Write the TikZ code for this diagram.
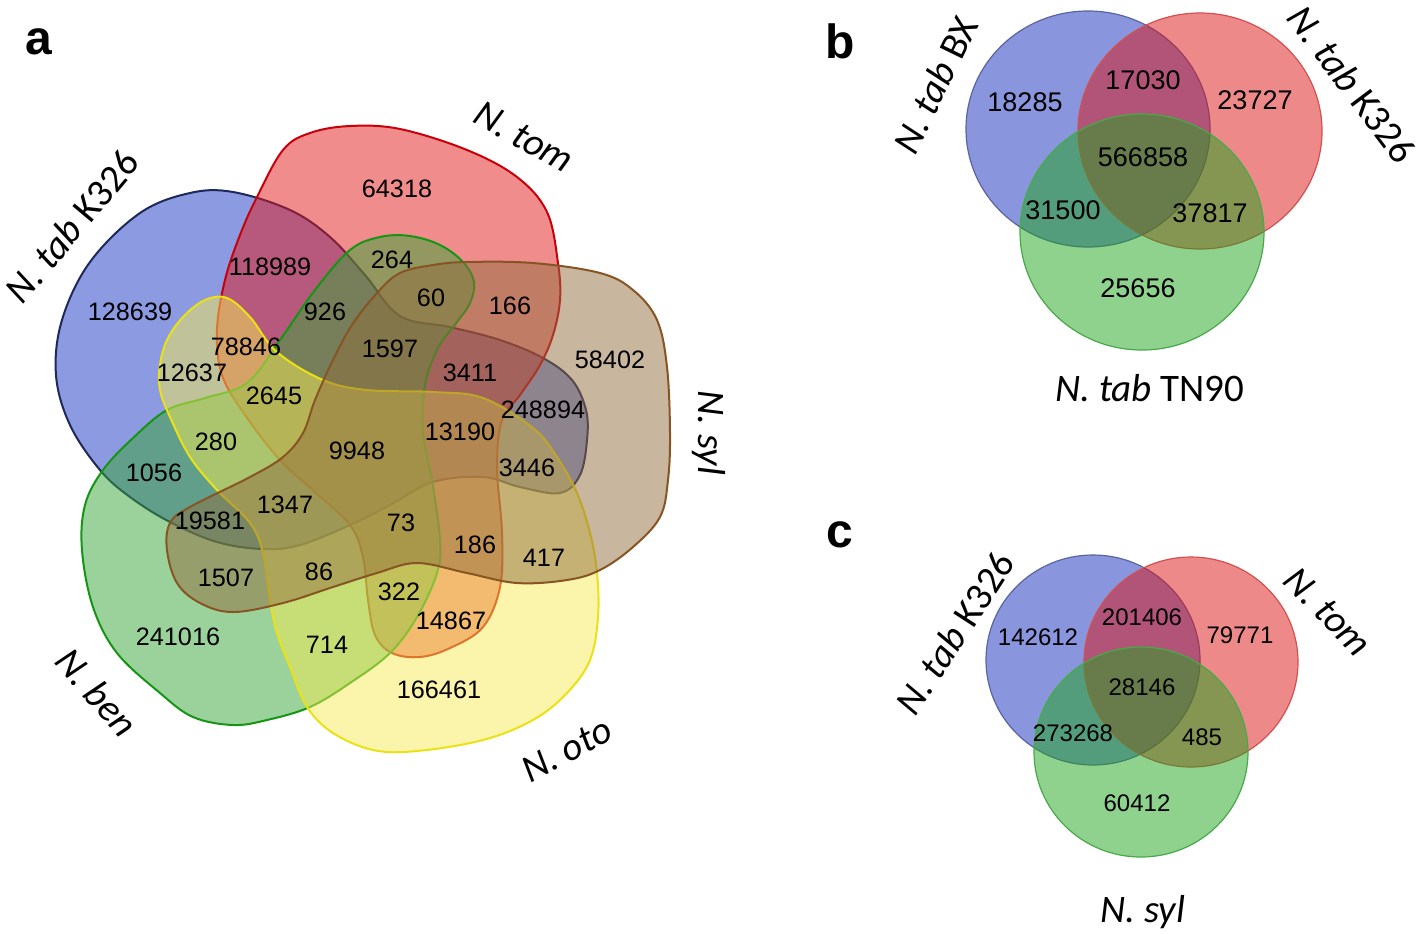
\documentclass[tikz,border=0pt]{standalone}
\usepackage{fontspec}
\setmainfont{Liberation Sans}
\newfontfamily\calib{Carlito}
\definecolor{kblue}{RGB}{25,55,195}
\definecolor{kbluel}{RGB}{30,40,90}
\definecolor{tred}{RGB}{225,25,25}
\definecolor{tredl}{RGB}{200,0,10}
\definecolor{bgreen}{RGB}{55,165,55}
\definecolor{bgreenl}{RGB}{20,150,20}
\definecolor{oyel}{RGB}{245,235,85}
\definecolor{oyell}{RGB}{235,225,20}
\definecolor{stan}{RGB}{145,109,61}
\definecolor{stanl}{RGB}{135,85,35}
\definecolor{cblue}{RGB}{20,45,190}
\definecolor{cbluel}{RGB}{90,100,160}
\definecolor{cred}{RGB}{220,20,20}
\definecolor{credl}{RGB}{210,80,80}
\definecolor{cgreen}{RGB}{30,165,30}
\definecolor{cgreenl}{RGB}{70,170,70}

\begin{document}
\begin{tikzpicture}[x=0.5pt,y=-0.5pt,
  cnt/.style={font=\fontsize{12.6}{14}\selectfont,inner sep=0pt},
  cntb/.style={font=\fontsize{13.5}{15}\selectfont,inner sep=0pt},
  cntc/.style={font=\fontsize{12}{14}\selectfont,inner sep=0pt},
  setlab/.style={font=\calib\fontsize{19.5}{22}\selectfont,inner sep=0pt},
  panel/.style={font=\bfseries\fontsize{24}{26}\selectfont,inner sep=0pt},
  blob/.style={line width=1pt,fill opacity=0.5,line join=round},
  disc/.style={line width=0.6pt,fill opacity=0.5}]
  \useasboundingbox (0,0) rectangle (1418,933);

  % panel a: five blobs
  \draw[blob,draw=kbluel,fill=kblue] plot[smooth cycle,tension=0.6] coordinates {
    (233,192) (290,210) (330,237) (365,275) (400,316) (450,327) (500,340)
    (543,358) (572,380) (586,410) (587,440) (580,475) (560,493) (520,487)
    (483,477) (433,482) (390,505) (350,525) (300,545) (263,549) (217,542)
    (170,522) (130,497) (100,470) (70,425) (56,375) (62,320) (90,262)
    (140,213) (190,193)};
  \draw[blob,draw=tredl,fill=tred] plot[smooth cycle,tension=0.6] coordinates {
    (257,197) (283,150) (310,133) (350,126) (400,129) (467,150) (517,177)
    (547,212) (558,263) (560,300) (553,335) (540,365) (520,395) (502,420)
    (497,467) (502,533) (500,587) (483,627) (450,648) (420,657) (392,653)
    (375,635) (368,600) (363,557) (350,525) (315,492) (280,460) (245,415)
    (222,375) (217,330) (225,280) (240,235)};
  \draw[blob,draw=bgreenl,fill=bgreen] plot[smooth cycle,tension=0.6] coordinates {
    (350,250) (380,237) (410,236) (440,245) (463,262) (474,282) (470,303)
    (457,322) (438,348) (425,385) (423,433) (432,480) (440,540) (437,573)
    (417,617) (390,653) (350,683) (310,707) (267,720) (233,725) (193,717)
    (160,693) (117,653) (93,607) (82,550) (85,505) (103,470) (133,438)
    (167,410) (205,398) (247,383) (280,340) (315,290)};
  \draw[blob,draw=oyell,fill=oyel] plot[smooth cycle,tension=0.6] coordinates {
    (227,298) (250,317) (277,352) (323,380) (367,390) (433,392) (483,398)
    (533,428) (557,457) (577,493) (590,533) (597,573) (598,617) (590,660)
    (567,693) (533,720) (483,740) (417,751) (373,750) (333,733) (307,707)
    (290,667) (277,633) (270,600) (263,553) (250,523) (217,490) (190,457)
    (170,417) (160,390) (160,365) (167,340) (183,317) (205,300)};
  \draw[blob,draw=stanl,fill=stan] plot[smooth cycle,tension=0.6] coordinates {
    (400,273) (433,265) (467,262) (533,263) (600,273) (633,290) (657,320)
    (667,367) (670,433) (668,480) (660,517) (633,547) (600,570) (567,580)
    (517,583) (467,573) (417,563) (377,573) (333,587) (283,603) (233,612)
    (200,603) (177,583) (167,550) (170,523) (190,507) (250,477) (283,457)
    (303,433) (315,400) (333,360) (352,325) (377,293)};

  \node[panel] (pa) at (39,42) {a};
  \node[setlab,rotate=50] (labAk) at (72,226) {{\itshape N. tab} K326};
  \node[setlab,rotate=-29] (labAt) at (524,137) {\itshape N. tom};
  \node[setlab,rotate=-90] (labAs) at (709,433) {\itshape N. syl};
  \node[setlab,rotate=-49] (labAb) at (97,692) {\itshape N. ben};
  \node[setlab,rotate=28] (labAo) at (567,750) {\itshape N. oto};

  \node[cnt] (a64318) at (397,189) {64318};
  \node[cnt] (a118989) at (270,267) {118989};
  \node[cnt] (a264) at (392,260) {264};
  \node[cnt] (a128639) at (130,312) {128639};
  \node[cnt] (a926) at (325,312) {926};
  \node[cnt] (a60) at (431,298) {60};
  \node[cnt] (a166) at (510,306) {166};
  \node[cnt] (a78846) at (246,347) {78846};
  \node[cnt] (a1597) at (390,349) {1597};
  \node[cnt] (a58402) at (610,360) {58402};
  \node[cnt] (a12637) at (192,373) {12637};
  \node[cnt] (a3411) at (470,373) {3411};
  \node[cnt] (a2645) at (274,396) {2645};
  \node[cnt] (a248894) at (543,410) {248894};
  \node[cnt] (a13190) at (460,432) {13190};
  \node[cnt] (a280) at (216,442) {280};
  \node[cnt] (a9948) at (357,451) {9948};
  \node[cnt] (a1056) at (154,473) {1056};
  \node[cnt] (a3446) at (527,468) {3446};
  \node[cnt] (a1347) at (285,505) {1347};
  \node[cnt] (a19581) at (210,521) {19581};
  \node[cnt] (a73) at (401,523) {73};
  \node[cnt] (a186) at (475,545) {186};
  \node[cnt] (a417) at (544,558) {417};
  \node[cnt] (a1507) at (226,578) {1507};
  \node[cnt] (a86) at (319,572) {86};
  \node[cnt] (a322) at (399,592) {322};
  \node[cnt] (a14867) at (451,621) {14867};
  \node[cnt] (a241016) at (178,637) {241016};
  \node[cnt] (a714) at (327,645) {714};
  \node[cnt] (a166461) at (439,690) {166461};

  % panel b
  \draw[disc,draw=cbluel,fill=cblue] (1088,129) ellipse [x radius=122,y radius=118];
  \draw[disc,draw=credl,fill=cred] (1200,131) ellipse [x radius=122,y radius=118];
  \draw[disc,draw=cgreenl,fill=cgreen] (1142,232) ellipse [x radius=122,y radius=118];
  \node[panel] (pb) at (840,41) {b};
  \node[setlab,rotate=64] (labBx) at (935,85) {{\itshape N. tab} BX};
  \node[setlab,rotate=-53] (labBk) at (1352,84) {{\itshape N. tab} K326};
  \node[setlab] (labBt) at (1150,388) {{\itshape N. tab} TN90};
  \node[cntb] (b18285) at (1025,102) {18285};
  \node[cntb] (b17030) at (1143,80) {17030};
  \node[cntb] (b23727) at (1255,100) {23727};
  \node[cntb] (b566858) at (1143,157) {566858};
  \node[cntb] (b31500) at (1063,210) {31500};
  \node[cntb] (b37817) at (1210,213) {37817};
  \node[cntb] (b25656) at (1138,288) {25656};

  % panel c
  \draw[disc,draw=cbluel,fill=cblue] (1093,660) ellipse [x radius=107,y radius=105];
  \draw[disc,draw=credl,fill=cred] (1191,662) ellipse [x radius=107,y radius=105];
  \draw[disc,draw=cgreenl,fill=cgreen] (1141,752) ellipse [x radius=107,y radius=105];
  \node[panel] (pc) at (840,535) {c};
  \node[setlab,rotate=57] (labCk) at (955,633) {{\itshape N. tab} K326};
  \node[setlab,rotate=-46] (labCt) at (1328,612) {\itshape N. tom};
  \node[setlab] (labCs) at (1143,912) {\itshape N. syl};
  \node[cntc] (c142612) at (1038,637) {142612};
  \node[cntc] (c201406) at (1142,617) {201406};
  \node[cntc] (c79771) at (1240,635) {79771};
  \node[cntc] (c28146) at (1142,687) {28146};
  \node[cntc] (c273268) at (1073,733) {273268};
  \node[cntc] (c485) at (1202,737) {485};
  \node[cntc] (c60412) at (1137,803) {60412};
\end{tikzpicture}
\end{document}
